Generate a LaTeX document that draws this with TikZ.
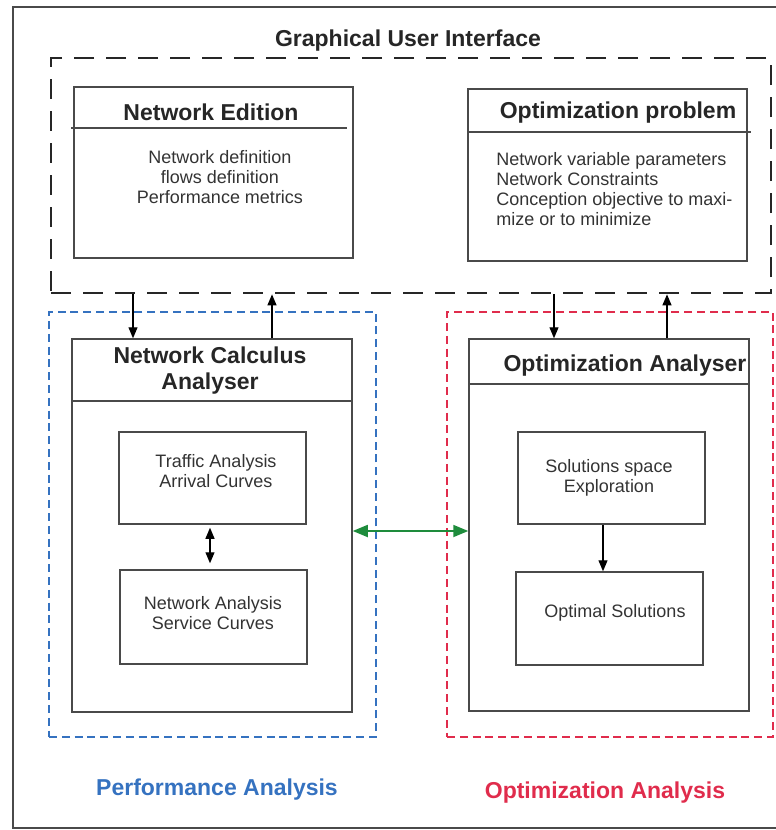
\documentclass[tikz,border=0pt]{standalone}
\usepackage{fontspec}
\setmainfont{Liberation Sans}
\usetikzlibrary{
  arrows.meta,  % Triangle tips
  fit           % boxes fitted to corner points
}

\definecolor{perfblue}{HTML}{3572C0}
\definecolor{optred}{HTML}{E02C4C}
\definecolor{linkgreen}{HTML}{1E8C3C}
\definecolor{boxgray}{HTML}{4A4A4A}

\begin{document}
\begin{tikzpicture}[x=0.5pt, y=-0.5pt,
  >={Triangle[length=5.5pt, width=4.5pt]},
  box/.style={draw=boxgray, line width=0.75pt, inner sep=0pt},
  zone/.style={line width=1.2pt, inner sep=0pt, dash pattern=on 4pt off 2.4pt},
  head/.style={font=\fontsize{11.5pt}{13pt}\selectfont\bfseries, inner sep=0pt, align=center, text=black!85},
  body/.style={font=\fontsize{9pt}{10pt}\selectfont, inner sep=0pt, text=black!80},
  link/.style={->, line width=0.6pt}]
  \useasboundingbox (0,0) rectangle (776,830);

  % outer frame (open on the right)
  \draw[boxgray, line width=0.75pt] (776,7) -- (13,7) -- (13,828) -- (776,828);

  % 1. graphical user interface
  \node[head] (guititle) at (408,41) {Graphical User Interface};
  \node[draw=black!85, line width=1.35pt, inner sep=0pt, dash pattern=on 10pt off 6pt,
        fit={(51,58) (771,293)}] (gui) {};

  % network edition
  \node[box, fit={(74,87) (353,258)}] (edit) {};
  \draw[boxgray, line width=0.75pt] (71,128) -- (347,128);
  \node[head] (edittitle) at (211,112) {Network Edition};
  \node[body, align=center] (edittext) at (220,177)
    {Network definition\\flows definition\\Performance metrics};

  % optimization problem
  \node[box, fit={(468,89) (747,261)}] (prob) {};
  \draw[boxgray, line width=0.75pt] (468,132) -- (751,132);
  \node[head] (probtitle) at (618,113) {Optimization problem};
  \node[body, align=left, anchor=west] (probtext) at (496,189)
    {Network variable parameters\\Network Constraints\\Conception objective to maxi-\\mize or to minimize};

  % 2. performance analysis (blue)
  \node[zone, draw=perfblue, fit={(49,312) (376,737)}] (perf) {};
  \node[box, fit={(72,339) (352,712)}] (nca) {};
  \draw[boxgray, line width=0.75pt] (72,401) -- (352,401);
  \node[head] (ncatitle) at (210,371) {Network Calculus\\Analyser};
  \node[box, fit={(119,432) (306,524)}] (traffic) {};
  \node[body, align=center] (traffictext) at (216,471) {Traffic Analysis\\Arrival Curves};
  \node[box, fit={(120,570) (307,664)}] (netan) {};
  \node[body, align=center] (netantext) at (213,613) {Network Analysis\\Service Curves};
  \node[head, text=perfblue] (perflabel) at (217,790) {Performance Analysis};

  % 3. optimization analysis (red)
  \node[zone, draw=optred, fit={(447,312) (773,737)}] (opt) {};
  \node[box, fit={(469,339) (749,711)}] (oa) {};
  \draw[boxgray, line width=0.75pt] (469,384) -- (749,384);
  \node[head] (oatitle) at (625,366) {Optimization Analyser};
  \node[box, fit={(518,432) (705,524)}] (space) {};
  \node[body, align=center] (spacetext) at (609,478) {Solutions space\\Exploration};
  \node[box, fit={(516,572) (703,665)}] (best) {};
  \node[body] (besttext) at (615,613) {Optimal Solutions};
  \node[head, text=optred] (optlabel) at (605,793) {Optimization Analysis};

  % connectors
  \draw[link] (gui.south -| 133,0) -- (nca.north -| 133,0);
  \draw[link] (nca.north -| 272,0) -- (gui.south -| 272,0);
  \draw[link] (gui.south -| 554,0) -- (oa.north -| 554,0);
  \draw[link] (oa.north -| 667,0) -- (gui.south -| 667,0);
  \draw[link, <->, shorten <=1.5pt, shorten >=3pt] (traffic.south -| 210,0) -- (netan.north -| 210,0);
  \draw[link] (space.south -| 603,0) -- (best.north -| 603,0);
  \draw[<->, linkgreen, line width=0.9pt, >={Triangle[length=7.5pt, width=6pt]}]
    (nca.east |- 0,531) -- (oa.west |- 0,531);
\end{tikzpicture}
\end{document}
